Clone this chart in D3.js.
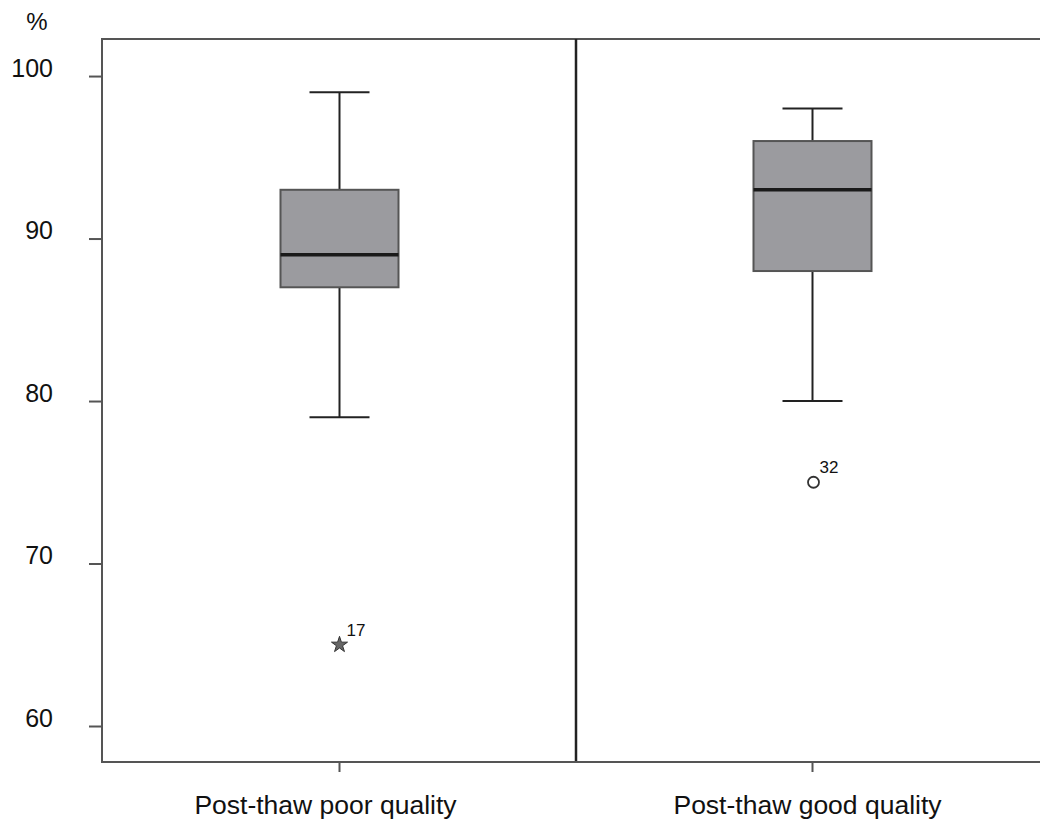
<!DOCTYPE html>
<html><head><meta charset="utf-8">
<script src="https://cdn.jsdelivr.net/npm/d3@7"></script>
<style>body{margin:0;background:#fff}svg{display:block}text{font-family:"Liberation Sans",Arial,sans-serif;fill:#111}</style>
</head><body><svg id="c" width="1040" height="820"></svg>
<script>
const categories = ["Post-thaw poor quality", "Post-thaw good quality"];
const q1 = [87, 88];
const median = [89, 93];
const q3 = [93, 96];
const whiskerLow = [79, 80];
const whiskerHigh = [99, 98];
const outlierValues = [65, 75];
const outlierLabels = ["17", "32"];
const outlierShapes = ["star", "circle"];
const yTicks = [60, 70, 80, 90, 100];

const svg = d3.select("#c");
const y = d3.scaleLinear().domain([57.785, 102.28]).range([762, 39]);
const x = d3.scaleBand().domain(categories).range([103, 1049]).padding(0);
const cx = c => x(c) + x.bandwidth() / 2;
const boxW = 118, capW = 60;

// frame
svg.append("line").attr("x1",102).attr("x2",1040).attr("y1",39).attr("y2",39).attr("stroke","#555").attr("stroke-width",2);
svg.append("line").attr("x1",x(categories[1])).attr("x2",x(categories[1])).attr("y1",39).attr("y2",762).attr("stroke","#222").attr("stroke-width",2.5);

// y axis
const ya = svg.append("g").attr("transform","translate(102,0)").call(d3.axisLeft(y).tickValues(yTicks).tickSize(13).tickPadding(36).tickFormat(d3.format("d")));
ya.select(".domain").remove();
ya.selectAll(".tick line").attr("stroke","#555").attr("stroke-width",2);
ya.selectAll(".tick text").attr("font-size",25).attr("dy","0em").attr("font-family","Liberation Sans, Arial, sans-serif").attr("fill","#111");
svg.append("line").attr("x1",102).attr("x2",102).attr("y1",38).attr("y2",763).attr("stroke","#555").attr("stroke-width",2);

// x axis
const labelShift = [-14, -5];
const xa = svg.append("g").attr("transform","translate(0,762)").call(d3.axisBottom(x).tickSize(10).tickPadding(42));
xa.select(".domain").remove();
xa.selectAll(".tick line").attr("stroke","#555").attr("stroke-width",2);
xa.selectAll(".tick text").attr("font-size",26.5).attr("dy","0em").attr("dx",(d,i)=>labelShift[i]).attr("font-family","Liberation Sans, Arial, sans-serif").attr("fill","#111");
svg.append("line").attr("x1",101).attr("x2",1040).attr("y1",762).attr("y2",762).attr("stroke","#555").attr("stroke-width",2);

svg.append("text").attr("x",37).attr("y",30).attr("text-anchor","middle").attr("font-size",24).text("%");

categories.forEach((c, i) => {
  const g = svg.append("g");
  const m = cx(c);
  g.append("line").attr("x1",m).attr("x2",m).attr("y1",y(whiskerHigh[i])).attr("y2",y(q3[i])).attr("stroke","#222").attr("stroke-width",2);
  g.append("line").attr("x1",m).attr("x2",m).attr("y1",y(q1[i])).attr("y2",y(whiskerLow[i])).attr("stroke","#222").attr("stroke-width",2);
  [whiskerHigh[i], whiskerLow[i]].forEach(v => g.append("line").attr("x1",m-capW/2).attr("x2",m+capW/2).attr("y1",y(v)).attr("y2",y(v)).attr("stroke","#222").attr("stroke-width",2));
  g.append("rect").attr("x",m-boxW/2).attr("y",y(q3[i])).attr("width",boxW).attr("height",y(q1[i])-y(q3[i])).attr("fill","#9b9b9f").attr("stroke","#555").attr("stroke-width",2);
  g.append("line").attr("x1",m-boxW/2).attr("x2",m+boxW/2).attr("y1",y(median[i])).attr("y2",y(median[i])).attr("stroke","#1a1a1a").attr("stroke-width",3.5);
  const oy = y(outlierValues[i]);
  if (outlierShapes[i] === "star") {
    g.append("path").attr("d", d3.symbol(d3.symbolStar, 80)()).attr("transform",`translate(${m},${oy})`).attr("fill","#666").attr("stroke","#333").attr("stroke-width",1);
  } else {
    g.append("circle").attr("cx",m+1).attr("cy",oy).attr("r",5.5).attr("fill","none").attr("stroke","#333").attr("stroke-width",1.8);
  }
  g.append("text").attr("x",m+7).attr("y",oy-9).attr("font-size",17).attr("fill","#222").text(outlierLabels[i]);
});
</script></body></html>
